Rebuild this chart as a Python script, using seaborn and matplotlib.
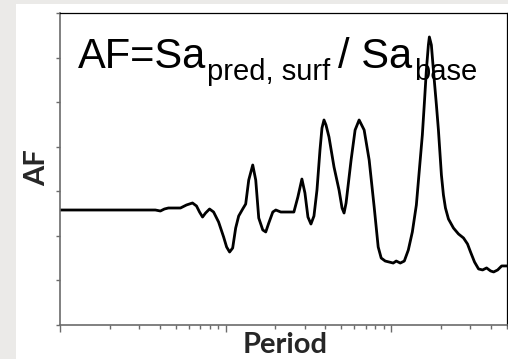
import numpy as np
import matplotlib
matplotlib.use("Agg")
import matplotlib.pyplot as plt
import seaborn as sns
from matplotlib.patches import Rectangle
from matplotlib.transforms import offset_copy

# Amplification factor spectrum (period in s, AF)
period = [0.01, 0.01747, 0.03765, 0.04037, 0.04269, 0.04513, 0.05337, 0.05802,
          0.06310, 0.06672, 0.06958, 0.07256, 0.07567, 0.07998, 0.08459, 0.09071,
          0.09725, 0.1014, 0.1057, 0.1103, 0.1150, 0.1199, 0.1268, 0.1322,
          0.1379, 0.1458, 0.1520, 0.1585, 0.1676, 0.1747, 0.1822, 0.1927,
          0.2009, 0.2154, 0.2583, 0.2731, 0.2888, 0.3012, 0.3141, 0.3275,
          0.3415, 0.3561, 0.3713, 0.3818, 0.3926, 0.4037, 0.4209, 0.4513,
          0.4840, 0.5047, 0.5190, 0.5337, 0.5723, 0.6051, 0.6399, 0.6862,
          0.7357, 0.7888, 0.8341, 0.8697, 0.9197, 0.9725, 1.028, 1.072,
          1.134, 1.199, 1.268, 1.341, 1.418, 1.478, 1.541, 1.585,
          1.630, 1.676, 1.699, 1.747, 1.797, 1.874, 1.927, 2.009,
          2.066, 2.125, 2.216, 2.376, 2.547, 2.731, 2.888, 3.012,
          3.184, 3.367, 3.561, 3.765, 3.981, 4.152, 4.390, 4.642, 5.0]
af = [1.032, 1.032, 1.032, 1.023, 1.041, 1.050, 1.050, 1.077,
      1.095, 1.068, 1.014, 0.969, 1.005, 1.041, 1.014, 0.924,
      0.790, 0.700, 0.655, 0.691, 0.870, 0.978, 1.041, 1.086,
      1.301, 1.436, 1.301, 0.960, 0.853, 0.835, 0.915, 1.014,
      1.032, 1.014, 1.014, 1.149, 1.310, 1.185, 0.969, 0.906,
      0.978, 1.211, 1.570, 1.768, 1.840, 1.795, 1.687, 1.418,
      1.211, 1.050, 1.005, 1.095, 1.481, 1.750, 1.840, 1.750,
      1.481, 1.059, 0.700, 0.601, 0.574, 0.565, 0.556, 0.574,
      0.556, 0.574, 0.673, 0.835, 1.077, 1.391, 1.705, 1.992,
      2.288, 2.513, 2.585, 2.513, 2.288, 1.974, 1.750, 1.346,
      1.167, 1.050, 0.951, 0.870, 0.817, 0.781, 0.727, 0.655,
      0.565, 0.503, 0.494, 0.512, 0.485, 0.476, 0.494, 0.530, 0.530]

y_ticks = [0.0, 0.4, 0.8, 1.2, 1.6, 2.0, 2.4, 2.8]

# formula pieces: (text, font size, baseline drop in px, gap before in px)
formula = [("AF=Sa", 30, 0, 0),
           ("pred, surf", 21, 12, 1),
           ("/ Sa", 30, 0, 8),
           ("base", 21, 12, 1)]

sns.set_style("white")
plt.rcParams["font.family"] = ["Liberation Sans", "DejaVu Sans"]

W, H = 508, 359
fig = plt.figure(figsize=(W / 100, H / 100), dpi=100, facecolor="white")

# light grey frame on the left and top edges
fig.patches.append(Rectangle((0, 0), 16 / W, 1, transform=fig.transFigure,
                             facecolor="#ebeae8", edgecolor="none", zorder=0))
fig.patches.append(Rectangle((0, 1 - 4 / H), 1, 4 / H, transform=fig.transFigure,
                             facecolor="#ebeae8", edgecolor="none", zorder=0))

ax = fig.add_axes([60 / W, (H - 325) / H, 447 / W, 312 / H])
ax.set_facecolor("white")
sns.lineplot(x=period, y=af, ax=ax, color="black", linewidth=2.0,
             estimator=None, sort=False)
ax.lines[0].set_solid_joinstyle("round")
ax.lines[0].set_solid_capstyle("round")

ax.set_xscale("log")
ax.set_xlim(0.01, 5)
ax.set_ylim(0, 2.8)
ax.set_yticks(y_ticks)
ax.tick_params(axis="both", which="both", labelbottom=False, labelleft=False,
               direction="out", color="#6b6b6b")
ax.tick_params(axis="x", which="major", length=5, width=1, bottom=True)
ax.tick_params(axis="x", which="minor", length=3, width=1, bottom=True)
ax.tick_params(axis="y", which="major", length=3, width=1, left=True)
ax.set_xlabel("")
ax.set_ylabel("")

for side in ("left", "bottom"):
    ax.spines[side].set_color("#6b6b6b")
    ax.spines[side].set_linewidth(1.2)
for side in ("top", "right"):
    ax.spines[side].set_color("black")
    ax.spines[side].set_linewidth(0.9)

# formula written piece by piece, each starting where the previous one ends
renderer = fig.canvas.get_renderer()
x_px = 78.0
base_y = (H - 68) / H
for text, size, drop, gap in formula:
    x_px += gap
    tr = offset_copy(fig.transFigure, fig=fig, x=0, y=-drop, units="dots")
    t = fig.text(x_px / W, base_y, text, fontsize=size, ha="left",
                 va="baseline", color="black", transform=tr)
    x_px = t.get_window_extent(renderer).x1

fig.text(285 / W, 1 / H, "Period", fontsize=21, fontweight="bold",
         family=["Lato", "DejaVu Sans"], ha="center", va="bottom")
fig.text(37 / W, (H - 168) / H, "AF", fontsize=21, fontweight="bold",
         family=["Lato", "DejaVu Sans"], ha="center", va="center", rotation=90)

fig.savefig("out.png", dpi=100, facecolor="white")
